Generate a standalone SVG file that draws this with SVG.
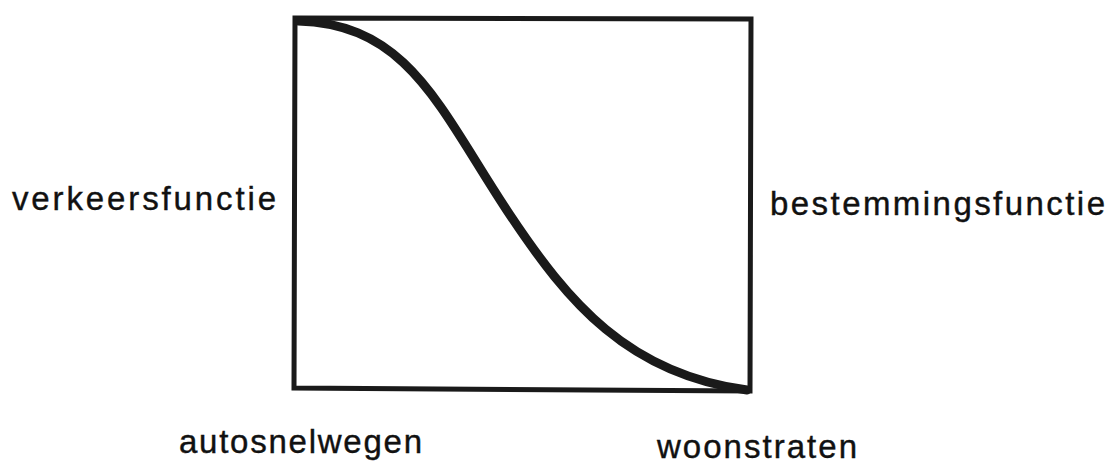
<svg xmlns="http://www.w3.org/2000/svg" width="1115" height="463" viewBox="0 0 1115 463">
<style>
text{font-family:"Liberation Sans",Arial,sans-serif;font-size:33px;fill:#111;stroke:#111;stroke-width:0.4}
.box{fill:none;stroke:#1a1a1a;stroke-width:5}
.curve{fill:none;stroke:#1a1a1a;stroke-width:9;stroke-linecap:round}
</style>
<rect width="1115" height="463" fill="#fff"/>
<g id="frame"><path class="box" d="M295,18 L751,19 L750,391 L294,388 Z"/></g>
<g id="connectors"><path class="curve" d="M298,21 C410,24 440,110 510,215 C568,302 628,374 747,390"/></g>
<g id="labels">
<text x="12" y="210" textLength="264" lengthAdjust="spacing">verkeersfunctie</text>
<text x="770" y="215" textLength="335" lengthAdjust="spacing">bestemmingsfunctie</text>
<text x="179" y="453" textLength="243" lengthAdjust="spacing">autosnelwegen</text>
<text x="657" y="458" textLength="200" lengthAdjust="spacing">woonstraten</text>
</g>
</svg>
